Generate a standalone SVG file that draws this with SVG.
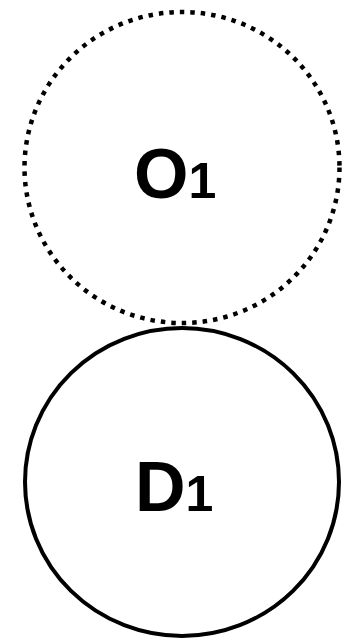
<svg xmlns="http://www.w3.org/2000/svg" width="349" height="639" viewBox="0 0 349 639">
<style>
.node{fill:none;stroke:#000;stroke-width:4}
.dotted{stroke-width:4.5;stroke-dasharray:4.5 6}
.lbl{font-family:"Liberation Sans",Arial,sans-serif;font-weight:bold;fill:#000}
.big{font-size:70px}
.sub{font-size:50px}
</style>
<rect width="349" height="639" fill="#fff"/>
<g id="connectors"></g>
<g id="O1">
<ellipse class="node dotted" cx="182" cy="167.5" rx="157.5" ry="155.5"/>
<text class="lbl" x="134" y="198"><tspan class="big">O</tspan><tspan class="sub">1</tspan></text>
</g>
<g id="D1">
<ellipse class="node" cx="182" cy="482" rx="157" ry="154"/>
<text class="lbl" x="135" y="511"><tspan class="big">D</tspan><tspan class="sub">1</tspan></text>
</g>
</svg>
